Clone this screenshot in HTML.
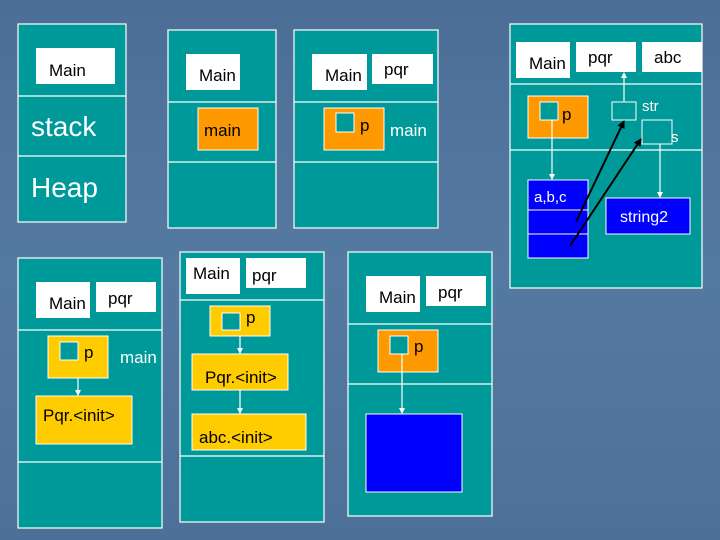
<!DOCTYPE html>
<html><head><style>
html,body{margin:0;padding:0;width:720px;height:540px;overflow:hidden}
body{background:linear-gradient(180deg,#4c6e96 0%,#557aa2 50%,#4d7098 100%)}
svg text{font-family:"Liberation Sans",sans-serif}
</style></head><body>
<svg width="720" height="540" viewBox="0 0 720 540" xmlns="http://www.w3.org/2000/svg">
<defs>
<marker id="aw" markerWidth="6" markerHeight="6" refX="5" refY="3" orient="auto" markerUnits="userSpaceOnUse"><path d="M0,0 L6,3 L0,6 z" fill="#fff"/></marker>
<marker id="ab" markerWidth="8" markerHeight="8" refX="7" refY="4" orient="auto" markerUnits="userSpaceOnUse"><path d="M0,0 L8,4 L0,8 z" fill="#000"/></marker>
</defs>
<g stroke="#fff" stroke-width="1.2" fill="#009999">
<rect x="18" y="24" width="108" height="198"/>
<rect x="168" y="30" width="108" height="198"/>
<rect x="294" y="30" width="144" height="198"/>
<rect x="510" y="24" width="192" height="264"/>
<rect x="18" y="258" width="144" height="270"/>
<rect x="180" y="252" width="144" height="270"/>
<rect x="348" y="252" width="144" height="264"/>
<line x1="18" y1="96" x2="126" y2="96"/><line x1="18" y1="156" x2="126" y2="156"/>
<line x1="168" y1="102" x2="276" y2="102"/><line x1="168" y1="162" x2="276" y2="162"/>
<line x1="294" y1="102" x2="438" y2="102"/><line x1="294" y1="162" x2="438" y2="162"/>
<line x1="510" y1="84" x2="702" y2="84"/><line x1="510" y1="150" x2="702" y2="150"/>
<line x1="18" y1="330" x2="162" y2="330"/><line x1="18" y1="462" x2="162" y2="462"/>
<line x1="180" y1="300" x2="324" y2="300"/><line x1="180" y1="456" x2="324" y2="456"/>
<line x1="348" y1="324" x2="492" y2="324"/><line x1="348" y1="384" x2="492" y2="384"/>
</g>
<g fill="#fff">
<rect x="36" y="48" width="79" height="36"/>
<rect x="186" y="54" width="54" height="36"/>
<rect x="312" y="54" width="55" height="36"/><rect x="372" y="54" width="61" height="30"/>
<rect x="516" y="42" width="54" height="36"/><rect x="576" y="42" width="60" height="30"/><rect x="642" y="42" width="60" height="30"/>
<rect x="36" y="282" width="54" height="36"/><rect x="96" y="282" width="60" height="30"/>
<rect x="186" y="258" width="54" height="36"/><rect x="246" y="258" width="60" height="30"/>
<rect x="366" y="276" width="54" height="36"/><rect x="426" y="276" width="60" height="30"/>
</g>
<g stroke="#fff" stroke-width="1">
<rect x="198" y="108" width="60" height="42" fill="#ff9900"/>
<rect x="324" y="108" width="60" height="42" fill="#ff9900"/>
<rect x="528" y="96" width="60" height="42" fill="#ff9900"/>
<rect x="378" y="330" width="60" height="42" fill="#ff9900"/>
<rect x="48" y="336" width="60" height="42" fill="#ffcc00"/>
<rect x="36" y="396" width="96" height="48" fill="#ffcc00"/>
<rect x="210" y="306" width="60" height="30" fill="#ffcc00"/>
<rect x="192" y="354" width="96" height="36" fill="#ffcc00"/>
<rect x="192" y="414" width="114" height="36" fill="#ffcc00"/>
<rect x="528" y="180" width="60" height="78" fill="#0000ff"/>
<line x1="528" y1="210" x2="588" y2="210"/><line x1="528" y1="234" x2="588" y2="234"/>
<rect x="606" y="198" width="84" height="36" fill="#0000ff"/>
<rect x="366" y="414" width="96" height="78" fill="#0000ff"/>
<g fill="#009999">
<rect x="336" y="113" width="18" height="19"/>
<rect x="540" y="102" width="18" height="18"/>
<rect x="612" y="102" width="24" height="18"/>
<rect x="642" y="120" width="30" height="24"/>
<rect x="390" y="336" width="18" height="18"/>
<rect x="60" y="342" width="18" height="18"/>
<rect x="222" y="313" width="18" height="17"/>
</g>
</g>
<g stroke="#fff" stroke-width="1.2" marker-end="url(#aw)">
<line x1="552" y1="120" x2="552" y2="179"/>
<line x1="624" y1="102" x2="624" y2="73"/>
<line x1="660" y1="144" x2="660" y2="197"/>
<line x1="78" y1="378" x2="78" y2="395"/>
<line x1="240" y1="336" x2="240" y2="353"/>
<line x1="240" y1="390" x2="240" y2="413"/>
<line x1="402" y1="354" x2="402" y2="413"/>
</g>
<g stroke="#000" stroke-width="2" marker-end="url(#ab)">
<line x1="576" y1="222" x2="624" y2="121"/>
<line x1="570" y1="246" x2="641" y2="139"/>
</g>
<g font-size="17" fill="#000">
<text x="49" y="76">Main</text>
<text x="199" y="81">Main</text>
<text x="325" y="81">Main</text><text x="384" y="75">pqr</text>
<text x="529" y="69">Main</text><text x="588" y="63">pqr</text><text x="654" y="63">abc</text>
<text x="49" y="309">Main</text><text x="108" y="304">pqr</text>
<text x="193" y="279">Main</text><text x="252" y="281">pqr</text>
<text x="379" y="303">Main</text><text x="438" y="298">pqr</text>
<text x="204" y="136">main</text>
<text x="360" y="131">p</text>
<text x="562" y="120">p</text>
<text x="414" y="352">p</text>
<text x="84" y="358">p</text>
<text x="246" y="323">p</text>
<text x="43" y="421">Pqr.&lt;init&gt;</text>
<text x="205" y="383">Pqr.&lt;init&gt;</text>
<text x="199" y="443">abc.&lt;init&gt;</text>
</g>
<g fill="#fff">
<text x="31" y="136" font-size="28">stack</text>
<text x="31" y="197" font-size="28">Heap</text>
<text x="390" y="136" font-size="17">main</text>
<text x="120" y="363" font-size="17">main</text>
<text x="642" y="111" font-size="15">str</text>
<text x="671" y="142" font-size="15">s</text>
<text x="534" y="202" font-size="15">a,b,c</text>
<text x="620" y="222" font-size="16">string2</text>
</g>
</svg>
</body></html>
